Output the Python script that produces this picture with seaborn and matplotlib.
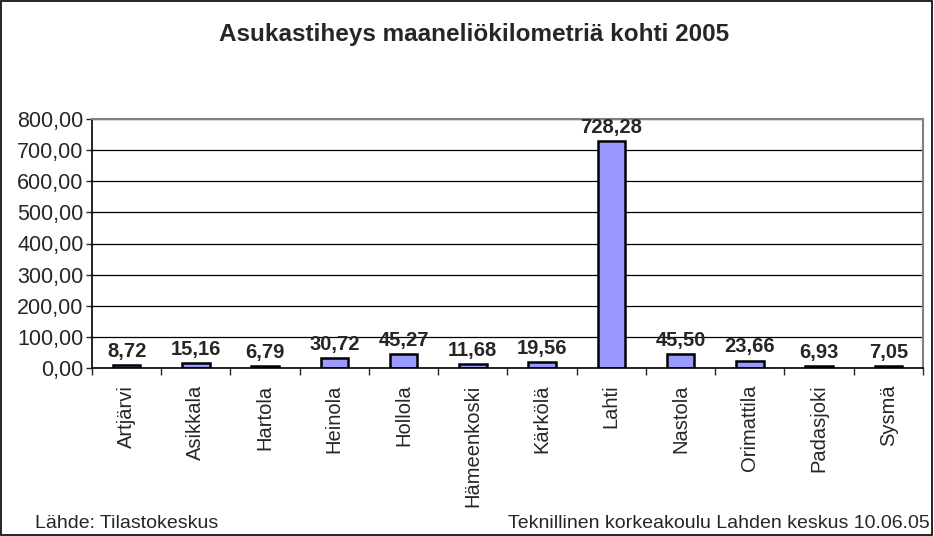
import matplotlib
matplotlib.use("Agg")
import matplotlib.pyplot as plt
import seaborn as sns
import pandas as pd
import numpy as np

kunnat = ["Artjärvi", "Asikkala", "Hartola", "Heinola", "Hollola", "Hämeenkoski",
          "Kärkölä", "Lahti", "Nastola", "Orimattila", "Padasjoki", "Sysmä"]
tiheys = [8.72, 15.16, 6.79, 30.72, 45.27, 11.68, 19.56, 728.28, 45.50, 23.66, 6.93, 7.05]

df = pd.DataFrame({"kunta": kunnat, "tiheys": tiheys})

sns.set_style("white")
plt.rcParams['font.family'] = ['Liberation Sans', 'DejaVu Sans']

fig = plt.figure(figsize=(9.34, 5.36), dpi=100)
ax = fig.add_axes([92/934, 1-368/536, (923-92)/934, (368-119)/536])

sns.barplot(data=df, x="kunta", y="tiheys", color="#9999FF", edgecolor="black",
            linewidth=1.8, width=0.4, saturation=1, ax=ax)

def fi(v):
    return f"{v:.2f}".replace(".", ",")

for i, v in enumerate(tiheys):
    ax.annotate(fi(v), (i, v), xytext=(0, 3), textcoords="offset points",
                ha="center", va="bottom", fontsize=14.5, fontweight="bold")

ax.set_ylim(0, 800)
ax.set_xlim(-0.5, len(kunnat) - 0.5)
yt = np.arange(0, 801, 100)
ax.set_yticks(yt)
ax.set_yticklabels([fi(v) for v in yt], fontsize=15.5)
ax.yaxis.grid(True, color="black", linewidth=0.9)
ax.set_axisbelow(True)
ax.tick_params(axis="y", left=True, length=4, width=1, pad=2)

ax.set_xticks(range(len(kunnat)))
ax.set_xticklabels(kunnat, rotation=90, fontsize=14.5)
ax.set_xticks(np.arange(-0.5, len(kunnat)), minor=True)
ax.tick_params(axis="x", which="major", length=0, pad=12)
ax.tick_params(axis="x", which="minor", bottom=True, length=5, width=1)
ax.set_xlabel("")
ax.set_ylabel("")

for s in ["left", "bottom"]:
    ax.spines[s].set_color("black")
    ax.spines[s].set_linewidth(1.2)
for s in ["top", "right"]:
    ax.spines[s].set_color("#808080")
    ax.spines[s].set_linewidth(1.5)

fig.text(0.508, 1-35/536, "Asukastiheys maaneliökilometriä kohti 2005", ha="center",
         va="center", fontsize=17.5, fontweight="bold")
fig.text(35/934, 1-523/536, "Lähde: Tilastokeskus", ha="left", va="center", fontsize=14)
fig.text(930/934, 1-523/536, "Teknillinen korkeakoulu Lahden keskus 10.06.05",
         ha="right", va="center", fontsize=14)

fig.patches.append(plt.Rectangle((0.001, 0.001), 0.997, 0.997, transform=fig.transFigure,
                                 fill=False, edgecolor="black", linewidth=1.2))

fig.savefig("out.png", dpi=100)
